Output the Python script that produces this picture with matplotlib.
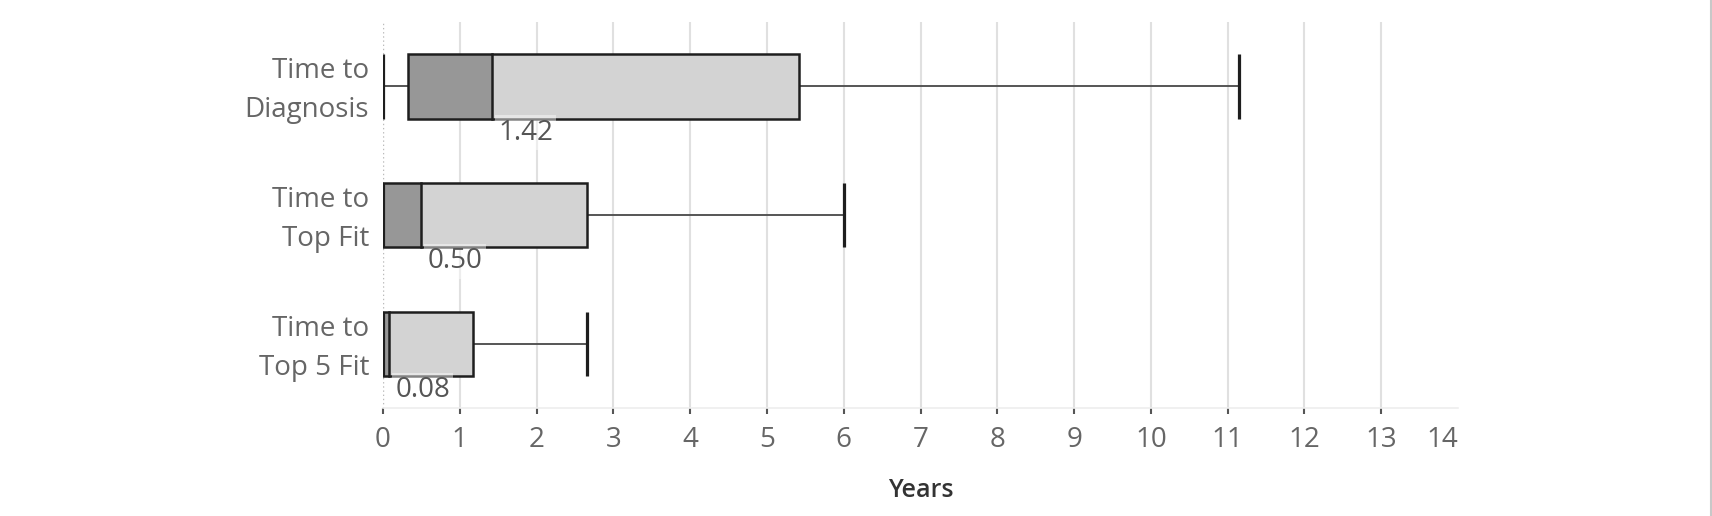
import matplotlib
matplotlib.use('Agg')
import matplotlib.pyplot as plt
from matplotlib.patches import Rectangle
from matplotlib.lines import Line2D
from matplotlib.transforms import ScaledTranslation

plt.rcParams['font.family'] = ['Open Sans', 'DejaVu Sans']

# Box plot summary values (years)
categories = ['Time to\nDiagnosis', 'Time to\nTop Fit', 'Time to\nTop 5 Fit']
lower_whisker = [0.0, 0.0, 0.0]
q1 = [0.33, 0.0, 0.0]
median = [1.42, 0.50, 0.08]
q3 = [5.42, 2.66, 1.17]
upper_whisker = [11.15, 6.0, 2.66]
median_labels = ['1.42', '0.50', '0.08']
x_ticks = list(range(15))

DARK = '#979797'
LIGHT = '#d3d3d3'
EDGE = '#1e1e1e'
BOX_H = 0.5

fig = plt.figure(figsize=(17.12, 5.16), dpi=100)
ax = fig.add_axes([383 / 1712, 1 - 408 / 516, (1458 - 383) / 1712, (408 - 22) / 516])

for i, cat in enumerate(categories):
    top = i - BOX_H / 2
    # whiskers
    ax.plot([lower_whisker[i], q1[i]], [i, i], color='#555555', lw=1.4, zorder=2)
    ax.plot([q3[i], upper_whisker[i]], [i, i], color='#555555', lw=1.4, zorder=2)
    for w in (lower_whisker[i], upper_whisker[i]):
        ax.plot([w, w], [top, top + BOX_H], color=EDGE, lw=2.3, zorder=4,
                solid_capstyle='butt')
    # lower and upper box halves
    ax.add_patch(Rectangle((q1[i], top), median[i] - q1[i], BOX_H,
                           facecolor=DARK, edgecolor='none', zorder=3))
    ax.add_patch(Rectangle((median[i], top), q3[i] - median[i], BOX_H,
                           facecolor=LIGHT, edgecolor='none', zorder=3))
    ax.add_patch(Rectangle((q1[i], top), q3[i] - q1[i], BOX_H,
                           facecolor='none', edgecolor=EDGE, lw=1.8, zorder=4))
    ax.plot([median[i], median[i]], [top, top + BOX_H], color=EDGE, lw=1.8, zorder=4)
    # median label
    ax.annotate(median_labels[i], xy=(median[i], top + BOX_H), xytext=(6, -14),
                textcoords='offset pixels', ha='left', va='center',
                fontsize=20, color='#555555', zorder=5,
                bbox=dict(boxstyle='square,pad=0.12', facecolor='white',
                          edgecolor='none', alpha=0.45))

ax.set_xlim(0, 14)
ax.set_ylim(2.5, -0.5)

ax.set_xticks(x_ticks)
ax.set_xticklabels([str(t) for t in x_ticks], fontsize=20, color='#666666')
ax.get_xticklabels()[-1].set_ha('right')
ax.xaxis.get_major_ticks()[-1].tick1line.set_visible(False)
ax.tick_params(axis='x', length=4, width=1.5, color='#555555', pad=9)

ax.set_yticks(range(len(categories)))
ax.set_yticklabels(categories, fontsize=20, color='#666666', ha='right',
                   linespacing=1.53)
ax.tick_params(axis='y', length=0, pad=10)
# nudge the two-line labels up a little
shift = ScaledTranslation(0, 4.5 / 100, fig.dpi_scale_trans)
for lbl in ax.get_yticklabels():
    lbl.set_transform(lbl.get_transform() + shift)

for t in x_ticks[1:-1]:
    ax.axvline(t, color='#e0e0e0', lw=1.5, zorder=0)
ax.axvline(0, color='#bbbbbb', lw=1, ls=(0, (1, 2)), zorder=1)

for s in ['top', 'right', 'left']:
    ax.spines[s].set_visible(False)
ax.spines['bottom'].set_color('#eeeeee')
ax.spines['bottom'].set_linewidth(1.2)

ax.set_xlabel('Years', fontsize=18, fontweight='semibold', color='#333333', labelpad=17)

fig.add_artist(Line2D([1710.5 / 1712] * 2, [0, 1], transform=fig.transFigure,
                      color='#c8c8c8', lw=1.5))

fig.savefig('out.png', dpi=100)
